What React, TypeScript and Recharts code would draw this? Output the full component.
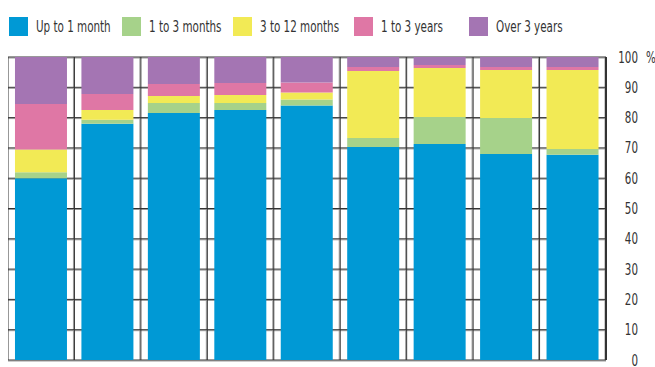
import { BarChart, Bar, XAxis, YAxis, CartesianGrid } from 'recharts';

// values in % of each bar, bottom to top
const categories = ['1', '2', '3', '4', '5', '6', '7', '8', '9'];
const upTo1Month = [60, 78, 81.5, 82.5, 84, 70.3, 71.3, 68, 67.7];
const oneTo3Months = [2, 1.3, 3.3, 2.3, 2, 3, 8.9, 11.9, 1.9];
const threeTo12Months = [7.5, 3.2, 2.3, 2.7, 2.3, 22.1, 16.2, 15.8, 26.1];
const oneTo3Years = [15, 5.3, 4, 3.9, 3.3, 1.3, 1, 1, 1];
const over3Years = [15.5, 12.2, 8.9, 8.6, 8.4, 3.3, 2.6, 3.3, 3.3];
const yTicks = [0, 10, 20, 30, 40, 50, 60, 70, 80, 90, 100];

const series = [
  { key: 'upTo1Month', name: 'Up to 1 month', color: '#0099d5', values: upTo1Month },
  { key: 'oneTo3Months', name: '1 to 3 months', color: '#a6d28a', values: oneTo3Months },
  { key: 'threeTo12Months', name: '3 to 12 months', color: '#f2ea55', values: threeTo12Months },
  { key: 'oneTo3Years', name: '1 to 3 years', color: '#df77a5', values: oneTo3Years },
  { key: 'over3Years', name: 'Over 3 years', color: '#a475b3', values: over3Years },
];

const data = categories.map((c, i) => {
  const row: Record<string, any> = { category: c };
  series.forEach((s) => (row[s.key] = s.values[i]));
  return row;
});

// narrow grotesque look: condensed font squeezed horizontally
const FONT = '"DejaVu Sans Condensed", "DejaVu Sans", sans-serif';
const SQUEEZE = 0.72;
const legendWidths = [113, 111, 121, 115, 110];

const LegendBox = () => (
  <div
    style={{
      position: 'absolute',
      top: 17,
      left: 9,
      display: 'flex',
      fontFamily: FONT,
      fontSize: 16,
      color: '#333',
      whiteSpace: 'nowrap',
    }}
  >
    {series.map((s, i) => (
      <div key={s.key} style={{ display: 'flex', alignItems: 'center', width: legendWidths[i], height: 19 }}>
        <div style={{ width: 19, height: 19, background: s.color, marginRight: 8, flexShrink: 0 }} />
        <span style={{ display: 'inline-block', transform: `scaleX(${SQUEEZE})`, transformOrigin: 'left center' }}>
          {s.name}
        </span>
      </div>
    ))}
  </div>
);

const YTick = (props: any) => {
  const { x, y, payload } = props;
  const tx = x + 24;
  return (
    <g>
      <text
        transform={`translate(${tx},${y}) scale(0.74,1)`}
        dy={5.5}
        textAnchor="end"
        fontFamily={FONT}
        fontSize={15.5}
        fill="#333"
      >
        {payload.value}
      </text>
      {payload.value === 100 && (
        <text
          transform={`translate(${tx + 8},${y}) scale(0.74,1)`}
          dy={5.5}
          fontFamily={FONT}
          fontSize={15.5}
          fill="#333"
        >
          %
        </text>
      )}
    </g>
  );
};

const vLines = (shift: number) => ({ offset }: any) =>
  categories.concat(['']).map((_, i) => offset.left + (i * offset.width) / categories.length + shift);
const hLines = (shift: number) => ({ offset }: any) =>
  yTicks.map((t) => offset.top + offset.height * (1 - t / 100) + shift);

export default function App() {
  return (
    <div style={{ position: 'relative', width: 655, height: 367, background: '#fff' }}>
      <style>{'body{margin:0}'}</style>
      <div style={{ position: 'absolute', left: 8, top: 8 }}>
        <BarChart
          width={647}
          height={359}
          data={data}
          margin={{ top: 49, right: 0, left: 0, bottom: 7 }}
          barCategoryGap="10.5%"
        >
          <CartesianGrid
            stroke="#999"
            strokeWidth={1}
            verticalCoordinatesGenerator={vLines(-1)}
            horizontalCoordinatesGenerator={hLines(1)}
          />
          <CartesianGrid
            stroke="#333"
            strokeWidth={1}
            verticalCoordinatesGenerator={vLines(0)}
            horizontalCoordinatesGenerator={hLines(0)}
          />
          <XAxis dataKey="category" tick={false} tickLine={false} height={0} axisLine={{ stroke: '#333', strokeWidth: 2 }} />
          <YAxis
            orientation="right"
            domain={[0, 100]}
            ticks={yTicks}
            width={49}
            tickLine={false}
            axisLine={{ stroke: '#333', strokeWidth: 2 }}
            tick={<YTick />}
            interval={0}
          />
          {series.map((s) => (
            <Bar key={s.key} dataKey={s.key} name={s.name} stackId="a" fill={s.color} isAnimationActive={false} />
          ))}
        </BarChart>
      </div>
      <LegendBox />
    </div>
  );
}
